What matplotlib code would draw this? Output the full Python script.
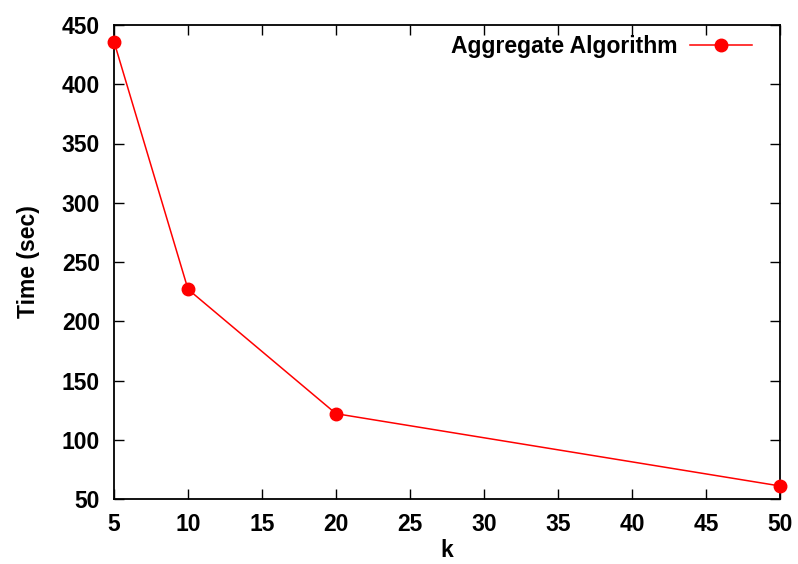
import matplotlib
matplotlib.use("Agg")
import matplotlib.pyplot as plt

plt.rcParams['font.family'] = ['Liberation Sans', 'DejaVu Sans']
plt.rcParams['font.weight'] = 'bold'

k = [5, 10, 20, 50]
time_sec = [436, 227, 122, 61]

fig = plt.figure(figsize=(7.98, 5.64), dpi=100)
ax = fig.add_axes([114/798, 1 - 499/564, (780-114)/798, (499-25)/564])

ax.plot(k, time_sec, color="red", linewidth=1.1, marker="o", markersize=9,
        label="Aggregate Algorithm", clip_on=False, zorder=3)

ax.set_xlim(5, 50)
ax.set_ylim(50, 450)
ax.set_xticks(range(5, 51, 5))
ax.set_yticks(range(50, 451, 50))
ax.tick_params(direction="in", top=True, right=True, length=7, width=1,
               labelsize=16.5, pad=10)
for s in ax.spines.values():
    s.set_linewidth(1.3)

ax.set_xlabel("k", fontsize=16.5, fontweight="bold", labelpad=2)
ax.set_ylabel("Time (sec)", fontsize=16.5, fontweight="bold", labelpad=16)

leg = ax.legend(loc="upper right", bbox_to_anchor=(1 - 13/666, 1 + 5/474),
                frameon=False, fontsize=16.5, markerfirst=False,
                handlelength=2.7, borderaxespad=0.25, handletextpad=0.55)

fig.savefig("out.png", dpi=100)
